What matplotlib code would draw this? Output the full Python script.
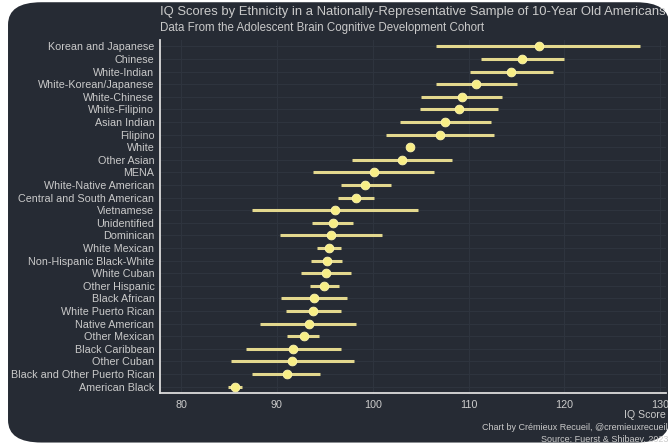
import numpy as np
import matplotlib
matplotlib.use("Agg")
import matplotlib.pyplot as plt
from matplotlib.patches import FancyBboxPatch

groups = ["Korean and Japanese", "Chinese", "White-Indian", "White-Korean/Japanese",
          "White-Chinese", "White-Filipino", "Asian Indian", "Filipino", "White",
          "Other Asian", "MENA", "White-Native American", "Central and South American",
          "Vietnamese", "Unidentified", "Dominican", "White Mexican",
          "Non-Hispanic Black-White", "White Cuban", "Other Hispanic", "Black African",
          "White Puerto Rican", "Native American", "Other Mexican", "Black Caribbean",
          "Other Cuban", "Black and Other Puerto Rican", "American Black"]
iq = [117.3, 115.6, 114.4, 110.8, 109.3, 109.0, 107.5, 107.0, 103.9, 103.0, 100.1,
      99.2, 98.2, 96.1, 95.8, 95.6, 95.4, 95.2, 95.1, 94.9, 93.9, 93.8, 93.3, 92.8,
      91.7, 91.6, 91.0, 85.6]
lo = [106.6, 111.3, 110.1, 106.6, 105.0, 104.9, 102.8, 101.4, 103.9, 97.8, 93.8,
      96.7, 96.4, 87.4, 93.7, 90.3, 94.2, 93.6, 92.5, 93.4, 90.4, 90.9, 88.2, 91.1,
      86.8, 85.2, 87.4, 84.9]
hi = [127.9, 120.0, 118.8, 115.0, 113.5, 113.1, 112.3, 112.6, 103.9, 108.3, 106.4,
      101.9, 100.1, 104.7, 97.9, 101.0, 96.7, 96.8, 97.7, 96.5, 97.3, 96.7, 98.3, 94.4,
      96.7, 98.0, 94.5, 86.4]
xticks = [80, 90, 100, 110, 120, 130]

bg = "#262b34"
txt = "#cacaca"

fig = plt.figure(figsize=(6.68, 4.47), dpi=100, facecolor="white")
card = FancyBboxPatch((0.012, 0.01), 0.99, 0.985, boxstyle="round,pad=0,rounding_size=0.05",
                      transform=fig.transFigure, facecolor=bg, edgecolor="none", zorder=-5)
fig.patches.append(card)

ax = fig.add_axes([160 / 668, 54 / 447, 506 / 668, 353 / 447])
ax.set_facecolor(bg)

y = np.arange(len(groups))
for i in range(len(groups)):
    ax.plot([lo[i], hi[i]], [y[i], y[i]], color="#e3d88e", lw=2.2, solid_capstyle="butt", zorder=3)
ax.plot(iq, y, "o", ms=6.3, color="#f8ee86", mec="#fff6b0", mew=0.6, zorder=4)

ax.set_xlim(77.8, 130.6)
ax.set_ylim(len(groups) - 0.5, -0.5)
ax.set_xticks(xticks)
ax.set_yticks(y)
ax.set_yticklabels(groups)
ax.tick_params(colors=txt, labelsize=7.75, length=0, pad=4)
ax.tick_params(axis="x", pad=5)
ax.grid(True, color="#2f353f", lw=0.7)
ax.set_axisbelow(True)
for s in ["top", "right"]:
    ax.spines[s].set_visible(False)
for s in ["left", "bottom"]:
    ax.spines[s].set_color("#dcdcdc")
    ax.spines[s].set_linewidth(1.3)

fig.text(160 / 668, 1 - 12 / 447, "IQ Scores by Ethnicity in a Nationally-Representative Sample of 10-Year Old Americans",
         color=txt, fontsize=9.4, family="Liberation Sans", va="center")
fig.text(160 / 668, 1 - 28 / 447, "Data From the Adolescent Brain Cognitive Development Cohort",
         color=txt, fontsize=8.3, family="Liberation Sans", va="center")
fig.text(666 / 668, 1 - 415 / 447, "IQ Score", color=txt, fontsize=7.6, ha="right", va="center",
         family="Liberation Sans")
fig.text(668 / 668, 1 - 428 / 447, "Chart by Crémieux Recueil, @cremieuxrecueil", color=txt,
         fontsize=6.5, ha="right", va="center", family="Liberation Sans")
fig.text(668 / 668, 1 - 439 / 447, "Source: Fuerst & Shibaev, 2023", color=txt,
         fontsize=6.5, ha="right", va="center", family="Liberation Sans")

for lab in ax.get_xticklabels() + ax.get_yticklabels():
    lab.set_family("Liberation Sans")

fig.savefig("out.png", dpi=100, facecolor=fig.get_facecolor())
